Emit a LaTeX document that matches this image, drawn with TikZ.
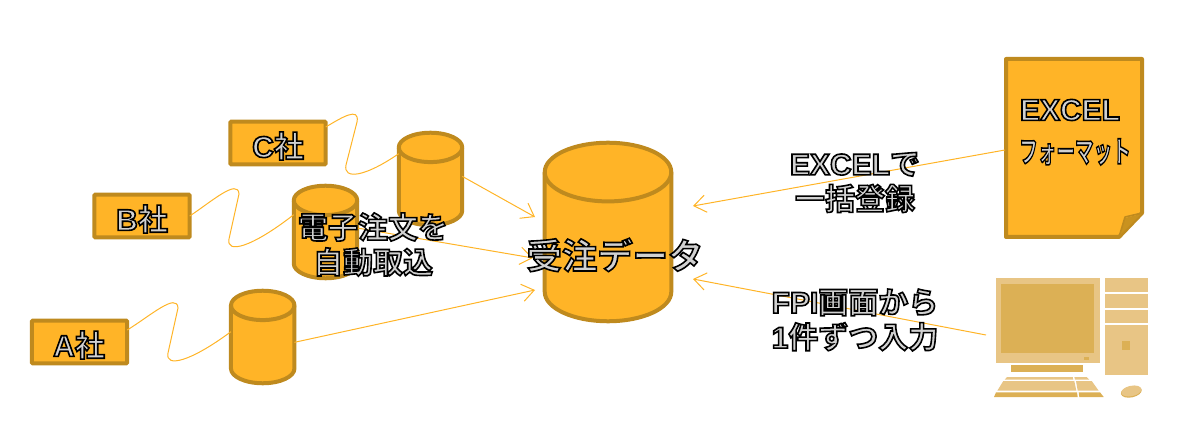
\documentclass[tikz,border=0pt]{standalone}
\usepackage{fontspec}
\usetikzlibrary{arrows.meta}
\setmainfont{Liberation Sans Bold}
\newfontfamily\cjk{Noto Sans CJK JP Bold}
\newcommand{\glowtext}[1]{\special{pdf:code q 2 Tr 1.2 w 0 0 0 RG 0.82 g}#1\special{pdf:code Q}}
\newcommand{\drumshape}[3]{%
  \draw[drumline] ([yshift=-#3]#1.north west) arc[start angle=180,end angle=0,x radius=#2,y radius=#3]
    -- ([yshift=#3]#1.south east) arc[start angle=0,end angle=-180,x radius=#2,y radius=#3] -- cycle;
  \draw[drumline,fill=none] ([yshift=-#3]#1.north west) arc[start angle=180,end angle=360,x radius=#2,y radius=#3];
}
\definecolor{amber}{HTML}{FFB427}
\definecolor{amberdark}{HTML}{BF8A1E}
\definecolor{foldc}{HTML}{C9921F}
\definecolor{pclight}{HTML}{E8C585}
\definecolor{pcdark}{HTML}{DCB055}
\tikzset{
  x=0.75pt,y=-0.75pt,
  firm/.style={draw=amberdark,fill=amber,line width=3pt,rounded corners=0.8pt,minimum width=71.6pt,minimum height=31.9pt,inner sep=0pt,outer sep=0pt},
  db/.style={rectangle,minimum width=47.6pt,minimum height=69.4pt,inner sep=0pt,outer sep=0pt},
  drumline/.style={draw=amberdark,fill=amber,line width=3pt,line join=round},
  link/.style={draw=amber,line width=0.75pt},
  flow/.style={link,-{Straight Barb[length=9pt,width=13pt,line width=0.75pt]}},
  lbl/.style={inner sep=0pt,align=center,font=\fontsize{22.5pt}{26.2pt}\selectfont},
  pcl/.style={fill=pclight,draw=none},
  pcd/.style={fill=pcdark,draw=none}
}
\begin{document}
\begin{tikzpicture}
\useasboundingbox (0,0) rectangle (1202,438);
% firms
\node[firm] (fa) at (79.5,342) {};
\node[firm] (fb) at (142,216) {};
\node[firm] (fc) at (278,143) {};
% databases
\node[db] (da) at (262.7,337) {};
\node[db] (db) at (325.5,232) {};
\node[db] (dc) at (430.5,179) {};
\node[db,minimum width=94.9pt,minimum height=133.9pt] (main) at (608,232) {};
\drumshape{da}{23.8pt}{11pt}
\drumshape{db}{23.8pt}{11pt}
\drumshape{dc}{23.8pt}{11pt}
\drumshape{main}{47.45pt}{22pt}
% document
\coordinate (docw) at (1005,150);
\draw[draw=amberdark,fill=amber,line width=3pt,line join=round] (1006,59) -- (1142,59) -- (1142,213) -- (1119,237) -- (1006,237) -- cycle;
\fill[foldc] (1119,236) -- (1125,218) -- (1141,214) -- cycle;
\draw[amberdark,line width=1.2pt,line join=round] (1119,237) -- (1125,217) -- (1142,213);
% computer
\coordinate (pcw) at (986,335);
\fill[pcl] (995.7,278) rectangle (1100,363);
\fill[pcd] (1001.3,284) rectangle (1094,353);
\fill[pcd] (1084,356.7) rectangle (1089.3,360);
\fill[pcd] (1011,364.8) rectangle (1082.7,372.3);
\fill[pcl] (1105,278.3) rectangle (1147.7,292);
\fill[pcl] (1105,294) rectangle (1147.7,307.7);
\fill[pcl] (1105,309.7) rectangle (1147.7,323);
\fill[pcl] (1105,325) rectangle (1147.7,375);
\fill[pcd] (1122.3,341) rectangle (1130,350);
\fill[pcl] (1007,377) -- (1072.7,377) -- (1073.3,379.7) -- (1004.7,379.7) -- cycle;
\fill[pcl] (1074.3,377) -- (1086.7,377) -- (1089.3,379.7) -- (1075,379.7) -- cycle;
\fill[pcl] (1003.3,381) -- (1074.3,381) -- (1076.3,390.7) -- (997.3,390.7) -- cycle;
\fill[pcl] (1076,381) -- (1091.7,381) -- (1098.7,390.7) -- (1077.7,390.7) -- cycle;
\fill[pcd] (996,392.3) -- (1077,392.3) -- (1077.7,397) -- (994,397) -- cycle;
\fill[pcd] (1078.7,392.3) -- (1100,392.3) -- (1103.7,397) -- (1079.3,397) -- cycle;
\fill[pcd,rotate around={12:(1131.3,391.8)}] (1131.3,391.8) ellipse [x radius=10.6,y radius=5.6];
\fill[pclight,rotate around={12:(1131.3,391)}] (1131.3,391) ellipse [x radius=10.2,y radius=5.2];
% free ends
\coordinate (ta) at (535,290);
\coordinate (tb) at (533,258);
\coordinate (tc) at (535,217);
\coordinate (te) at (693,206);
\coordinate (tp) at (693,279);
% wavy links
\draw[link] ([yshift=9pt]fa.east) .. controls (150,316) and (177,292) .. (178,308) -- (168,353) .. controls (165,368) and (190,362) .. ([yshift=4pt]da.west);
\draw[link] (fb.east) .. controls (211,202) and (238,178) .. (239,194) -- (229,239) .. controls (226,254) and (251,248) .. ([yshift=13pt]db.west);
\draw[link] ([yshift=12pt]fc.east) .. controls (341,118) and (360,106) .. (357,122) -- (346,165) .. controls (343,180) and (365,177) .. ([yshift=19pt]dc.west);
% flows
\draw[flow] ([yshift=2pt]dc.east) -- (tc);
\draw[flow] ([yshift=3pt]db.east) -- (tb);
\draw[flow] ([yshift=-4pt]da.east) -- (ta);
\draw[flow] (docw) -- (te);
\draw[flow] (pcw) -- (tp);
% texts
\node[lbl] (la) at (79,345) {\glowtext{A\cjk 社}};
\node[lbl] (lb) at (142,219) {\glowtext{B\cjk 社}};
\node[lbl] (lc) at (278,146) {\glowtext{C\cjk 社}};
\node[lbl] (lauto) at (373,244.5) {\glowtext{\cjk 電子注文を\\\cjk 自動取込}};
\node[lbl,font=\fontsize{26.5pt}{30pt}\selectfont] (lmain) at (615,255) {\glowtext{\cjk 受注データ}};
\node[lbl] (lex) at (855,182.5) {\glowtext{EXCEL{\cjk で}\\\cjk 一括登録}};
\node[lbl] (lfp) at (855,320) {\glowtext{FPI{\cjk 画面から}\\1{\cjk 件ずつ入力}}};
\node[lbl] (ldoc) at (1070,110) {\glowtext{EXCEL}};
\node[lbl,xscale=0.62] (lfmt) at (1075,152) {\glowtext{\cjk フォーマット}};
\end{tikzpicture}
\end{document}
